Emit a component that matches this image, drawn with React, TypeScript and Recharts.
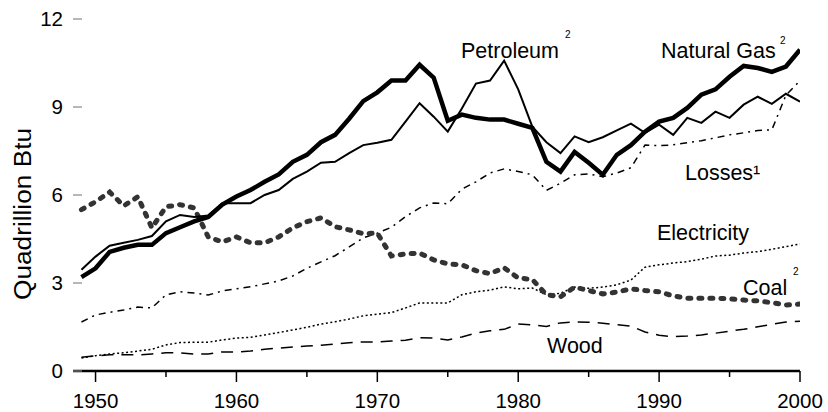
import { LineChart, Line, XAxis, YAxis } from "recharts";

const years = [
  1949, 1950, 1951, 1952, 1953, 1954, 1955, 1956, 1957, 1958,
  1959, 1960, 1961, 1962, 1963, 1964, 1965, 1966, 1967, 1968,
  1969, 1970, 1971, 1972, 1973, 1974, 1975, 1976, 1977, 1978,
  1979, 1980, 1981, 1982, 1983, 1984, 1985, 1986, 1987, 1988,
  1989, 1990, 1991, 1992, 1993, 1994, 1995, 1996, 1997, 1998,
  1999, 2000,
];

const naturalGas = [
  3.2, 3.5, 4.06, 4.2, 4.3, 4.3, 4.7, 4.9, 5.1, 5.25,
  5.67, 5.95, 6.17, 6.45, 6.7, 7.13, 7.37, 7.8, 8.05, 8.6,
  9.2, 9.5, 9.9, 9.9, 10.44, 10.0, 8.53, 8.74, 8.63, 8.57,
  8.57, 8.43, 8.29, 7.13, 6.8, 7.47, 7.1, 6.69, 7.37, 7.7,
  8.16, 8.5, 8.63, 8.97, 9.42, 9.6, 10.03, 10.4, 10.33, 10.2,
  10.38, 10.95,
];

const petroleum = [
  3.45, 3.9, 4.27, 4.37, 4.47, 4.6, 5.1, 5.32, 5.25, 5.3,
  5.72, 5.72, 5.72, 6.0, 6.17, 6.55, 6.8, 7.1, 7.13, 7.43,
  7.7, 7.78, 7.88, 8.5, 9.13, 8.67, 8.16, 8.95, 9.8, 9.9,
  10.58, 9.6, 8.33, 7.8, 7.43, 8.0, 7.8, 7.97, 8.2, 8.43,
  8.12, 8.4, 8.05, 8.63, 8.46, 8.84, 8.63, 9.08, 9.35, 9.11,
  9.45, 9.18,
];

const losses = [
  1.67, 1.91, 2.0, 2.08, 2.18, 2.15, 2.6, 2.7, 2.66, 2.59,
  2.73, 2.8, 2.87, 2.97, 3.07, 3.24, 3.5, 3.72, 3.93, 4.23,
  4.54, 4.7, 4.9, 5.26, 5.56, 5.73, 5.7, 6.2, 6.45, 6.75,
  6.89, 6.8, 6.69, 6.16, 6.4, 6.69, 6.72, 6.62, 6.75, 6.93,
  7.7, 7.68, 7.71, 7.78, 7.85, 7.95, 8.05, 8.12, 8.2, 8.22,
  9.4, 9.9,
];

const coal = [
  5.5, 5.77, 6.1, 5.63, 5.94, 4.88, 5.6, 5.67, 5.56, 4.57,
  4.4, 4.57, 4.37, 4.37, 4.57, 4.88, 5.09, 5.22, 4.92, 4.81,
  4.68, 4.7, 3.92, 3.99, 4.02, 3.79, 3.65, 3.62, 3.42, 3.32,
  3.52, 3.17, 3.12, 2.6, 2.53, 2.86, 2.74, 2.63, 2.69, 2.8,
  2.74, 2.7, 2.56, 2.48, 2.48, 2.48, 2.46, 2.42, 2.39, 2.33,
  2.25, 2.28,
];

const electricity = [
  0.44, 0.52, 0.58, 0.62, 0.68, 0.74, 0.89, 0.97, 0.98, 0.98,
  1.06, 1.12, 1.15, 1.23, 1.31, 1.4, 1.49, 1.6, 1.68, 1.77,
  1.88, 1.94, 1.99, 2.15, 2.32, 2.32, 2.32, 2.6, 2.7, 2.76,
  2.87, 2.8, 2.83, 2.6, 2.65, 2.86, 2.82, 2.86, 2.94, 3.1,
  3.54, 3.62, 3.68, 3.73, 3.81, 3.92, 3.95, 4.02, 4.07, 4.15,
  4.24, 4.33,
];

const wood = [
  0.47, 0.52, 0.55, 0.55, 0.55, 0.58, 0.62, 0.62, 0.58, 0.58,
  0.65, 0.65, 0.68, 0.74, 0.78, 0.82, 0.85, 0.88, 0.92, 0.96,
  0.99, 0.99, 1.02, 1.05, 1.13, 1.12, 1.06, 1.16, 1.29, 1.37,
  1.42, 1.6, 1.57, 1.52, 1.64, 1.67, 1.66, 1.63, 1.58, 1.53,
  1.33, 1.22, 1.17, 1.19, 1.23, 1.29, 1.36, 1.42, 1.51, 1.59,
  1.67, 1.7,
];

const xTicks = [1950, 1955, 1960, 1965, 1970, 1975, 1980, 1985, 1990, 1995, 2000];
const yTicks = [0, 3, 6, 9, 12];

const data = years.map((year, i) => ({
  year,
  naturalGas: naturalGas[i],
  petroleum: petroleum[i],
  losses: losses[i],
  coal: coal[i],
  electricity: electricity[i],
  wood: wood[i],
}));

const FONT = "'Liberation Sans', Arial, sans-serif";

const XTick = ({ x, y, payload }: any) => {
  const major = payload.value % 10 === 0;
  return (
    <g>
      <line x1={x} x2={x} y1={y} y2={y + (major ? 11 : 6)} stroke="#000" strokeWidth={1.5} />
      {major && (
        <text x={x} y={y + 37} textAnchor="middle" fontSize={20.5} fontFamily={FONT} fill="#000">
          {payload.value}
        </text>
      )}
    </g>
  );
};

const YTick = ({ x, y, payload }: any) => (
  <g>
    <line x1={x} x2={x + 9} y1={y} y2={y} stroke="#888" strokeWidth={1.2} />
    <text x={x - 10} y={y + 7} textAnchor="end" fontSize={20.5} fontFamily={FONT} fill="#000">
      {payload.value}
    </text>
  </g>
);

const labelStyle = { fontSize: 21.5, fontFamily: FONT, fill: "#000" };
const supStyle = { fontSize: 10, fontFamily: FONT, fill: "#000" };

export default function App() {
  return (
    <div style={{ position: "absolute", left: 0, top: 0, width: 828, height: 412, background: "#fff" }}>
      <LineChart
        width={828}
        height={412}
        data={data}
        margin={{ top: 19, right: 28, bottom: 11, left: 0 }}
      >
        <XAxis
          dataKey="year"
          type="number"
          domain={[1948.4, 2000]}
          allowDataOverflow
          ticks={xTicks}
          interval={0}
          height={30}
          tickSize={0}
          tickMargin={0}
          tickLine={false}
          axisLine={{ stroke: "#000", strokeWidth: 2.5 }}
          tick={<XTick />}
        />
        <YAxis
          domain={[0, 12]}
          ticks={yTicks}
          interval={0}
          width={73}
          tickSize={0}
          tickMargin={0}
          tickLine={false}
          axisLine={false}
          tick={<YTick />}
        />
        <Line type="linear" dataKey="wood" stroke="#000" strokeWidth={1.5} strokeDasharray="12 8" dot={false} isAnimationActive={false} />
        <Line type="linear" dataKey="electricity" stroke="#000" strokeWidth={1.5} strokeDasharray="2 2.5" dot={false} isAnimationActive={false} />
        <Line type="linear" dataKey="losses" stroke="#000" strokeWidth={1.5} strokeDasharray="7 5 2 5" dot={false} isAnimationActive={false} />
        <Line type="linear" dataKey="coal" stroke="#333" strokeWidth={5} strokeDasharray="3 8" strokeLinecap="round" dot={false} isAnimationActive={false} />
        <Line type="linear" dataKey="petroleum" stroke="#000" strokeWidth={2} dot={false} isAnimationActive={false} />
        <Line type="linear" dataKey="naturalGas" stroke="#000" strokeWidth={4.5} dot={false} isAnimationActive={false} />
      </LineChart>
      <svg width={828} height={412} style={{ position: "absolute", left: 0, top: 0, pointerEvents: "none" }}>
        <text
          x={31}
          y={214}
          transform="rotate(-90 31 214)"
          textAnchor="middle"
          fontSize={23}
          textLength={172}
          lengthAdjust="spacingAndGlyphs"
          fontFamily={FONT}
          fill="#000"
        >
          Quadrillion Btu
        </text>
        <text x={461} y={58} style={labelStyle}>Petroleum</text>
        <text x={565} y={38} style={supStyle}>2</text>
        <text x={661} y={58} style={labelStyle}>Natural Gas</text>
        <text x={780} y={44} style={supStyle}>2</text>
        <text x={685} y={180} style={labelStyle}>Losses¹</text>
        <text x={657} y={240} style={labelStyle}>Electricity</text>
        <text x={743} y={295} style={labelStyle}>Coal</text>
        <text x={793} y={275} style={supStyle}>2</text>
        <text x={547} y={353} style={labelStyle}>Wood</text>
      </svg>
    </div>
  );
}
